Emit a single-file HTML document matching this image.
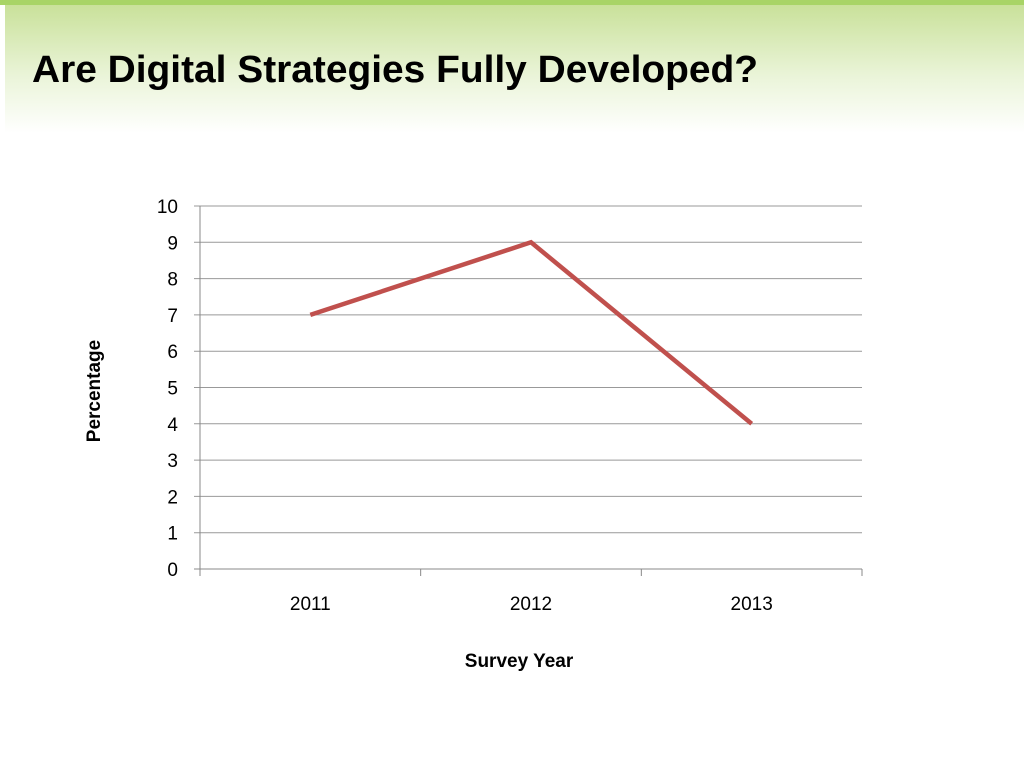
<!DOCTYPE html>
<html><head><meta charset="utf-8"><style>
body{margin:0;width:1024px;height:768px;background:#fff;overflow:hidden;font-family:"Liberation Sans",sans-serif}
</style></head><body>
<svg width="1024" height="768">
<defs><linearGradient id="hg" x1="0" y1="0" x2="0" y2="1">
<stop offset="0" stop-color="#c9e19a"/><stop offset="0.55" stop-color="#eaf4d8"/><stop offset="1" stop-color="#ffffff"/></linearGradient></defs>
<rect x="0" y="0" width="1024" height="5" fill="#a8d466"/>
<rect x="5" y="5" width="1019" height="128" fill="url(#hg)"/>
<text x="32" y="82" font-size="38" font-weight="bold" textLength="726" lengthAdjust="spacingAndGlyphs" fill="#000">Are Digital Strategies Fully Developed?</text>
<g id="chart"></g>
</svg>
<script>
const categories=["2011","2012","2013"];
const values=[7,9,4];
const yTicks=[0,1,2,3,4,5,6,7,8,9,10];
const NS="http://www.w3.org/2000/svg";
const g=document.getElementById("chart");
const L=200,R=862,T=206,B=569,yMax=10;
const y=v=>B-(B-T)*v/yMax;
const band=(R-L)/categories.length;
const x=i=>L+band*(i+0.5);
function mk(tag,a){const e=document.createElementNS(NS,tag);for(const k in a)e.setAttribute(k,a[k]);g.appendChild(e);return e;}
yTicks.forEach(v=>{
 const l=mk("line",{x1:L-6,x2:R,y1:y(v),y2:y(v),stroke:v===0?"#888":"#999","stroke-width":1});
 
 
 const t=mk("text",{x:L-22,y:y(v)+7,"font-size":19,"text-anchor":"end",fill:"#000"});t.textContent=v;
 
 
});
const ax=mk("line",{x1:L,x2:L,y1:T,y2:B,stroke:"#888"});


for(let i=0;i<=categories.length;i++){
 const tk=mk("line",{x1:L+band*i,x2:L+band*i,y1:B,y2:B+7,stroke:"#888"});
 
 
}
categories.forEach((c,i)=>{
 const t=mk("text",{x:x(i),y:B+41,"font-size":19,"text-anchor":"middle",fill:"#000"});t.textContent=c;
 
 
});
const line=mk("polyline",{points:values.map((v,i)=>x(i)+","+y(v)).join(" "),fill:"none",stroke:"#c0504d","stroke-width":4.5,"stroke-linejoin":"miter"});


const xt=mk("text",{x:519,y:667,"font-size":19,"font-weight":"bold","text-anchor":"middle"});xt.textContent="Survey Year";


const yt=mk("text",{x:0,y:0,"font-size":19,"font-weight":"bold","text-anchor":"middle",transform:"translate(100,391) rotate(-90)"});yt.textContent="Percentage";


</script>
</body></html>
